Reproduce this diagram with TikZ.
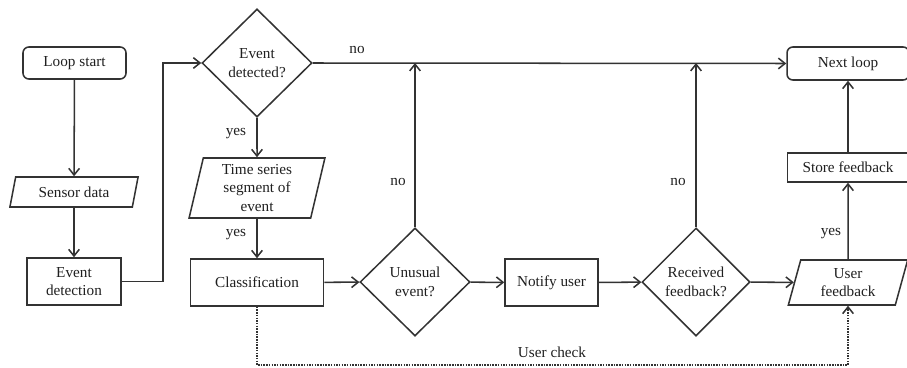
\documentclass[tikz,border=0pt]{standalone}
\usepackage{fontspec}
\setmainfont{Liberation Serif}
\usetikzlibrary{arrows.meta, positioning, shapes.geometric}

\begin{document}
\begin{tikzpicture}[
    x=0.03cm, y=-0.03cm,
    every node/.style={font=\fontsize{13}{16}\selectfont, text=black!88},
    box/.style={
        draw=black!80,
        line width=1.3pt,
        align=center,
        inner sep=0pt
    },
    term/.style={box, rounded corners=5pt},
    decision/.style={box, diamond, minimum width=3.3cm, minimum height=3.24cm},
    para/.style={
        box,
        trapezium,
        trapezium left angle=76,
        trapezium right angle=104,
        trapezium stretches=true
    },
    lbl/.style={inner sep=1pt},
    arrow/.style={-{Straight Barb[length=2mm,width=3.2mm]}, line width=1.3pt, draw=black!80},
    check/.style={arrow, densely dotted}
]
\useasboundingbox (0,0) rectangle (907,367);

% --- Left column
\node[term, minimum width=3.09cm, minimum height=0.96cm] (start) at (74.5,63) {Loop start};
\node[para, minimum width=3.87cm, minimum height=0.9cm,
      trapezium left angle=72, trapezium right angle=108] (sensor) at (74,192) {Sensor data};
\node[box, minimum width=2.82cm, minimum height=1.41cm] (detect) at (74,281.5) {Event\\detection};

% --- Event branch
\node[decision] (detected) at (257,63) {Event\\detected?};
\node[para, minimum width=4.08cm, minimum height=1.8cm,
      trapezium left angle=79, trapezium right angle=101] (segment) at (257,188) {Time series\\segment of\\event};
\node[box, minimum width=3.99cm, minimum height=1.41cm] (classify) at (257,282.5) {Classification};

% --- Bottom row
\node[decision] (unusual) at (415,282) {Unusual\\event?};
\node[box, minimum width=2.79cm, minimum height=1.41cm] (notify) at (551.5,282.5) {Notify user};
\node[decision, minimum width=3.24cm] (received) at (696,282) {Received\\feedback?};
\node[para, minimum width=3.6cm, minimum height=1.35cm] (feedback) at (848,282.5) {User\\feedback};

% --- Right column
\node[box, minimum width=3.63cm, minimum height=0.87cm] (store) at (848,167.5) {Store feedback};
\node[term, minimum width=3.66cm, minimum height=0.99cm] (next) at (848,63.5) {Next loop};

% --- Arrows
\draw[arrow] (start) -- (sensor);
\draw[arrow] (sensor) -- (detect);
\draw[arrow] (detect.east) -- ++(41,0) |- (detected.west);
\draw[arrow] (detected.east) -- (next.west);
\draw[arrow] (detected) -- (segment);
\draw[arrow] (segment) -- (classify);
\draw[arrow] (classify) -- (unusual);
\draw[arrow] (unusual.north) -- (unusual.north |- detected.east);
\draw[arrow] (unusual) -- (notify);
\draw[arrow] (notify) -- (received);
\draw[arrow] (received.north) -- (received.north |- detected.east);
\draw[arrow] (received) -- (feedback);
\draw[arrow] (feedback) -- (store);
\draw[arrow] (store) -- (next);
\draw[check] (classify.south) -- (classify.south |- 0,365) -| (feedback.south);

% --- Branch labels
\node[lbl] (noTop) at (357,50) {no};
\node[lbl] (yesSeg) at (236,134) {yes};
\node[lbl] (yesCls) at (236,235) {yes};
\node[lbl] (noUnusual) at (398,182) {no};
\node[lbl] (noReceived) at (678,182) {no};
\node[lbl] (yesStore) at (831,234) {yes};
\node[lbl] (userCheck) at (552,352) {User check};

\end{tikzpicture}
\end{document}
